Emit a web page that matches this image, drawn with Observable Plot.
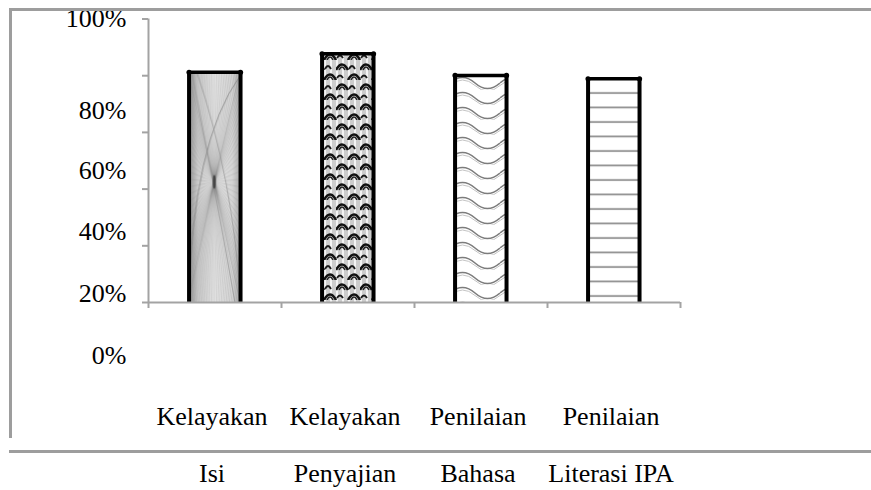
<!DOCTYPE html>
<html>
<head>
<meta charset="utf-8">
<script src="https://cdn.jsdelivr.net/npm/d3@7"></script>
<script src="https://cdn.jsdelivr.net/npm/@observablehq/plot@0.6"></script>
<style>
  html, body { margin: 0; padding: 0; background: #fff; }
  #wrap { position: relative; width: 871px; height: 490px; overflow: hidden; }
  .frame { position: absolute; background: #9d9d9d; }
</style>
</head>
<body>
<div id="wrap">
  <svg width="0" height="0" style="position:absolute">
    <defs>
      <linearGradient id="g1" x1="0" x2="1" y1="0" y2="0">
        <stop offset="0" stop-color="#8f8f8f"/>
        <stop offset="0.18" stop-color="#c9c9c9"/>
        <stop offset="0.5" stop-color="#e4e4e4"/>
        <stop offset="0.85" stop-color="#d4d4d4"/>
        <stop offset="1" stop-color="#a8a8a8"/>
      </linearGradient>
      <pattern id="p1" patternUnits="objectBoundingBox" width="1" height="1" viewBox="0 0 50 230" preserveAspectRatio="none">
        <rect width="50" height="230" fill="url(#g1)"/>
        <g id="rays" stroke="#6a6a6a" stroke-width="0.35" stroke-opacity="0.5" fill="none"></g>
        <path d="M0,230 Q4,70 50,4" stroke="#7a7a7a" stroke-width="0.7" fill="none"/>
        <path d="M50,226 Q44,110 8,0" stroke="#8a8a8a" stroke-width="0.6" fill="none"/>
        <path d="M3,0 Q30,140 45,230" stroke="#8a8a8a" stroke-width="0.6" fill="none"/>
        <ellipse cx="25" cy="110" rx="1.6" ry="7" fill="#444"/>
      </pattern>
      <pattern id="p2" patternUnits="userSpaceOnUse" width="24" height="20">
        <rect width="24" height="20" fill="#cdcdcd"/>
        <path d="M1,0 V20 M7,0 V20 M13,0 V20 M19,0 V20" stroke="#f4f4f4" stroke-width="2"/>
        <path d="M0,10 Q6,-1 12,10" stroke="#111" stroke-width="2.6" fill="none"/>
        <path d="M3,10 Q6,4 9,10" stroke="#222" stroke-width="1.6" fill="none"/>
        <path d="M12,20 Q18,9 24,20 M-12,20 Q-6,9 0,20" stroke="#111" stroke-width="2.6" fill="none"/>
        <path d="M15,20 Q18,14 21,20 M-9,20 Q-6,14 -3,20" stroke="#222" stroke-width="1.6" fill="none"/>
        <path d="M13,9 Q16,3 19,9" stroke="#1a1a1a" stroke-width="1.8" fill="none"/>
        <path d="M1,18 Q4,13 7,18" stroke="#1a1a1a" stroke-width="1.8" fill="none"/>
      </pattern>
      <pattern id="p3" patternUnits="userSpaceOnUse" width="50" height="15">
        <rect width="50" height="15" fill="#fff"/>
        <path d="M0,8 Q12.5,-3 25,8 T50,8" stroke="#7c7c7c" stroke-width="1.6" fill="none"/>
        <path d="M0,10.5 Q12.5,-0.5 25,10.5 T50,10.5" stroke="#c4c4c4" stroke-width="1" fill="none"/>
      </pattern>
      <pattern id="p4" patternUnits="userSpaceOnUse" width="10" height="14.5">
        <rect width="10" height="14.5" fill="#fff"/>
        <line x1="0" x2="10" y1="6" y2="6" stroke="#8a8a8a" stroke-width="1.7"/>
      </pattern>
    </defs>
  </svg>
  <div id="chart"></div>
  <div class="frame" style="left:9px;top:8px;width:862px;height:2.5px"></div>
  <div class="frame" style="left:9px;top:8px;width:2.5px;height:430px"></div>
  <div class="frame" style="left:9px;top:450px;width:862px;height:2.5px"></div>
</div>
<script>
// ---- data ----
const categories = ["Kelayakan Isi", "Kelayakan Penyajian", "Penilaian Bahasa", "Penilaian Literasi IPA"];
const labelLine1 = ["Kelayakan", "Kelayakan", "Penilaian", "Penilaian"];
const labelLine2 = ["Isi", "Penyajian", "Bahasa", "Literasi IPA"];
const values = [81.2, 87.7, 80.1, 78.9];
const yTicks = [0, 20, 40, 60, 80, 100];
const yTickLabels = ["100%", "80%", "60%", "40%", "20%", "0%"];
const yTickLabelAt = [100, 67.7, 46.4, 25, 3.2, -18.7];

// decorative rays for pattern 1
(function () {
  const g = document.getElementById("rays");
  let d = "";
  for (let k = 0; k <= 20; k++) {
    const x = 50 * k / 20;
    d += `M25,110L${x},0M25,110L${x},230`;
  }
  for (let k = 0; k <= 30; k++) {
    const y = 230 * k / 30;
    d += `M25,110L0,${y}M25,110L50,${y}`;
  }
  const p = document.createElementNS("http://www.w3.org/2000/svg", "path");
  p.setAttribute("d", d);
  g.appendChild(p);
})();

const data = categories.map((c, i) => ({
  category: c, i, value: values[i], label: labelLine1[i] + "\n" + labelLine2[i]
}));

const BAR_L = 0.305, BAR_R = 0.692;
const AXIS = "#a3a3a3";

const chart = Plot.plot({
  width: 871,
  height: 490,
  marginLeft: 148,
  marginRight: 191,
  marginTop: 18.5,
  marginBottom: 188,
  style: { fontFamily: "'Liberation Serif', 'Times New Roman', serif", fontSize: "26px", color: "#000", background: "transparent", overflow: "visible" },
  x: { type: "linear", domain: [0, categories.length], label: null },
  y: { domain: [0, 100], label: null },
  color: { domain: categories, range: ["url(#p1)", "url(#p2)", "url(#p3)", "url(#p4)"] },
  marks: [
    Plot.rectY(data, { x1: d => d.i + BAR_L, x2: d => d.i + BAR_R, y: "value", fill: "category" }),
    Plot.ruleX(data, { x: d => d.i + BAR_L, y1: 0, y2: "value", stroke: "#000", strokeWidth: 4 }),
    Plot.ruleX(data, { x: d => d.i + BAR_R, y1: 0, y2: "value", stroke: "#000", strokeWidth: 4 }),
    Plot.ruleY(data, { y: "value", x1: d => d.i + BAR_L, x2: d => d.i + BAR_R, stroke: "#000", strokeWidth: 3.5 }),
    Plot.dot(data, { x: d => d.i + BAR_L, y: "value", r: 2.6, fill: "#000" }),
    Plot.dot(data, { x: d => d.i + BAR_R, y: "value", r: 2.6, fill: "#000" }),
    Plot.ruleX([0], { y1: 0, y2: 100, stroke: AXIS, strokeWidth: 2 }),
    Plot.ruleY([0], { x1: 0, x2: categories.length, stroke: AXIS, strokeWidth: 2 }),
    Plot.axisY({ ticks: yTicks, tickSize: 6, tickFormat: () => "", label: null, stroke: AXIS, strokeWidth: 2 }),
    Plot.axisX({ ticks: d3.range(categories.length + 1), tickSize: 6, tickFormat: () => "", label: null, stroke: AXIS, strokeWidth: 2 }),
    Plot.text(yTickLabels, { y: (d, i) => yTickLabelAt[i], text: d => d, frameAnchor: "left", textAnchor: "end", dx: -22, fontSize: 26, fill: "#000" }),
    Plot.text(data, { x: d => d.i + 0.5, text: "label", frameAnchor: "bottom", lineAnchor: "top", dy: 82, dx: -3, lineHeight: 2.2, fontSize: 26, fill: "#000" })
  ]
});
document.getElementById("chart").appendChild(chart);
</script>
</body>
</html>
